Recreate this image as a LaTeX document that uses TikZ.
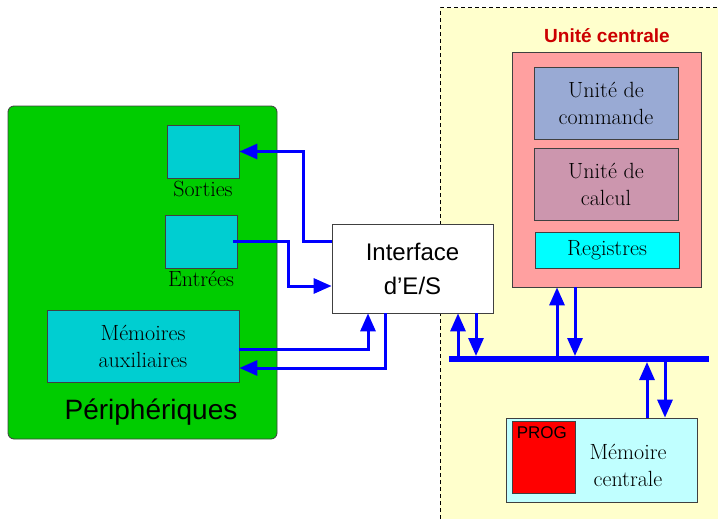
\documentclass[tikz,border=0pt]{standalone}
\usepackage{fontspec}
\newfontfamily\sansarial{Liberation Sans}
\usepackage{tikz}
\usetikzlibrary{arrows.meta, positioning, calc}
\definecolor{vertperi}{RGB}{0, 204, 0}
\definecolor{cyanperi}{RGB}{0, 206, 209}
\definecolor{cyanreg}{RGB}{0, 255, 255}
\definecolor{jauneuc}{RGB}{255, 255, 204}
\definecolor{roseuc}{RGB}{255, 160, 160}
\definecolor{bleucmd}{RGB}{153, 170, 212}
\definecolor{mauvecalc}{RGB}{204, 150, 174}
\definecolor{cyanmem}{RGB}{192, 255, 255}
\definecolor{rougetitre}{RGB}{204, 0, 0}

\begin{document}
\begin{tikzpicture}[x=1pt, y=-1pt,
	boite/.style={draw=black!75, line width=0.8pt, inner sep=0pt},
	texte/.style={font=\fontsize{22}{27}\selectfont, align=center},
	fleche/.style={draw=blue, line width=3pt, -{Triangle[length=18pt,width=15pt]}},
	bus/.style={draw=blue, line width=6pt}]
	\useasboundingbox (0,0) rectangle (718,519);
	\fill[jauneuc] (440,8) rectangle (718,519);
	\draw[line width=1pt, dash pattern=on 4pt off 3pt] (440,519)--(440,8)--(718,8);
	\node[boite, fill=vertperi, rounded corners=6pt, minimum width=269, minimum height=333] (peri) at (142.5,272.5) {};
	\node[boite, fill=cyanperi, minimum width=72, minimum height=53] (sorties) at (203,151.5) {};
	\node[boite, fill=cyanperi, minimum width=72, minimum height=53] (entrees) at (201,241.5) {};
	\node[texte, inner sep=2pt, below=1pt of sorties] (lsorties) {Sorties};
	\node[texte, inner sep=2pt, below=1pt of entrees] (lentrees) {Entrées};
	\node[boite, fill=cyanperi, minimum width=192, minimum height=72, texte] (memaux) at (143,346) {Mémoires\\auxiliaires};
	\node[font=\sansarial\fontsize{28}{32}\selectfont] (lperi) at (151,412) {Périphériques};
	\node[boite, fill=white, minimum width=161, minimum height=89, font=\sansarial\fontsize{24}{34}\selectfont, align=center] (interface) at (412.5,268.5) {Interface\\d’E/S};
	\node[font=\sansarial\bfseries\fontsize{19}{22}\selectfont, text=rougetitre] (luc) at (607,36) {Unité centrale};
	\node[boite, fill=roseuc, minimum width=189, minimum height=235] (uc) at (606.5,169.5) {};
	\node[boite, fill=bleucmd, minimum width=144, minimum height=72, texte] (cmd) at (606,103) {Unité de\\commande};
	\node[boite, fill=mauvecalc, minimum width=144, minimum height=72, texte] (calc) at (606,184) {Unité de\\calcul};
	\node[boite, fill=cyanreg, minimum width=144, minimum height=36, texte] (reg) at (607,250) {Registres};
	\node[boite, fill=cyanmem, minimum width=191, minimum height=84] (memc) at (601.5,460) {};
	\node[boite, fill=red, minimum width=63, minimum height=72] (prog) at (543.5,457) {};
	\node[anchor=north west, inner sep=1pt, font=\sansarial\fontsize{17}{20}\selectfont] (lprog) at ([xshift=4pt,yshift=-5pt]prog.north west) {PROG};
	\node[texte] (lmemc) at (628,465) {Mémoire\\centrale};
	\coordinate (busg) at (449,359);
	\coordinate (busd) at (709,359);
	\draw[fleche] (interface.west |- entrees) -- ++(-28,0) |- (sorties.east);
	\draw[fleche] ([xshift=-4pt]entrees.east) -- ++(55,0) |- ([yshift=-17.5pt]interface.west);
	\draw[fleche] ([yshift=-3pt]memaux.east) -| ([xshift=-44.5pt]interface.south);
	\draw[fleche] ([xshift=-27.5pt]interface.south) |- ([yshift=-22pt]memaux.east);
	\draw[fleche] ([xshift=45.5pt]interface.south |- busg) -- ([xshift=45.5pt]interface.south);
	\draw[fleche] ([xshift=63.5pt]interface.south) -- ([xshift=63.5pt,yshift=3pt]interface.south |- busg);
	\draw[fleche] ([xshift=-49.5pt]uc.south |- busg) -- ([xshift=-49.5pt]uc.south);
	\draw[fleche] ([xshift=-31.5pt]uc.south) -- ([xshift=-31.5pt,yshift=3pt]uc.south |- busg);
	\draw[fleche] ([xshift=45.5pt]memc.north) -- ([xshift=45.5pt,yshift=-3pt]memc.north |- busg);
	\draw[fleche] ([xshift=63.5pt]memc.north |- busg) -- ([xshift=63.5pt]memc.north);
	\draw[bus] (busg) -- (busd);
\end{tikzpicture}
\end{document}
